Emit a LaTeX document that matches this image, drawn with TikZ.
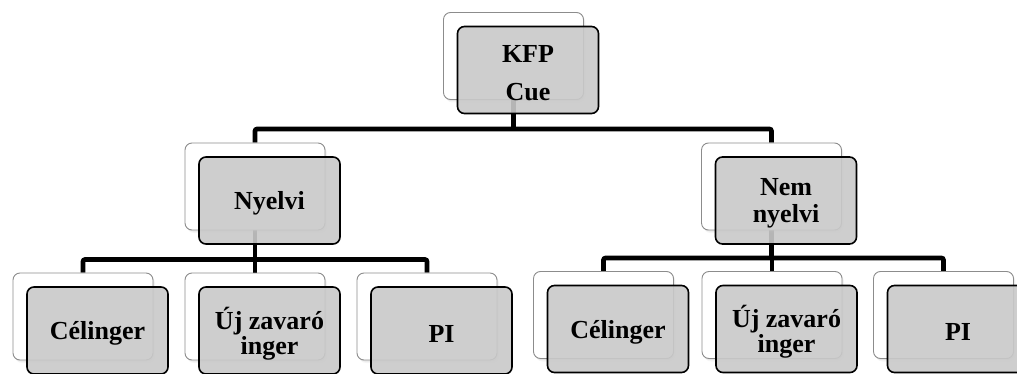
\documentclass[tikz,border=0pt]{standalone}
\usepackage{fontspec}
\setmainfont{Liberation Serif}
\usetikzlibrary{shadows,calc}
\pgfdeclarelayer{background}
\pgfsetlayers{background,main}

\tikzset{
  backcard/.style={draw=black!45, line width=0.9pt, fill=white, rounded corners=7pt,
    minimum width=140pt, minimum height=87pt, inner sep=0pt,
    drop shadow={shadow xshift=1pt, shadow yshift=-1.5pt, opacity=0.14},
    drop shadow={shadow xshift=2pt, shadow yshift=-3pt, opacity=0.08}},
  frontcard/.style={draw=black, line width=1.6pt, fill=black!21, fill opacity=0.9,
    rounded corners=7pt, minimum width=141pt, minimum height=87pt, inner sep=0pt},
  cardtext/.style={inner sep=0pt, align=center,
    font=\bfseries\fontsize{26}{27}\selectfont},
  conn/.style={draw=black, line width=4.6pt, rounded corners=2pt}
}

% a white card with a translucent grey card laid over it, and its label
\newcommand\cardpair[4]{%
  \node[backcard] (#1B) at (#2,#3) {};
  \node[frontcard] (#1) at ($(#1B)+(14.5pt,-14pt)$) {};
  \node[cardtext] (#1T) at ($(#1)+(0pt,-3pt)$) {#4};
}

\begin{document}
\begin{tikzpicture}[x=1pt, y=-1pt]
  \useasboundingbox (0,0) rectangle (1017,374);

  \cardpair{kfp}{513.5}{56}{KFP\\[11pt]Cue}
  \cardpair{nyelvi}{255}{186.5}{Nyelvi}
  \cardpair{nem}{771.5}{186.5}{Nem\\nyelvi}

  \cardpair{lcel}{83}{316.5}{Célinger}
  \cardpair{luj}{255}{316.5}{Új zavaró\\[-2pt]inger}
  \cardpair{lpi}{427}{316.5}{PI}

  \cardpair{rcel}{603.5}{315}{Célinger}
  \cardpair{ruj}{772}{315}{Új zavaró\\[-2pt]inger}
  \cardpair{rpi}{943.5}{315}{PI}

  % bus levels of the tree
  \coordinate (busA) at (0,129);
  \coordinate (busL) at (0,259.5);
  \coordinate (busR) at (0,258);

  \begin{pgfonlayer}{background}
    \draw[conn] (kfpB.south) -- (kfpB.south |- busA);
    \draw[conn] (nyelviB.north) |- (nemB.north |- busA) -- (nemB.north);

    \draw[conn] (nyelviB.south) -- (nyelviB.south |- busL);
    \draw[conn] (lcelB.north) |- (lpiB.north |- busL) -- (lpiB.north);
    \draw[conn] (lujB.north) -- (lujB.north |- busL);

    \draw[conn] (nemB.south) -- (nemB.south |- busR);
    \draw[conn] (rcelB.north) |- (rpiB.north |- busR) -- (rpiB.north);
    \draw[conn] (rujB.north) -- (rujB.north |- busR);
  \end{pgfonlayer}
\end{tikzpicture}
\end{document}
